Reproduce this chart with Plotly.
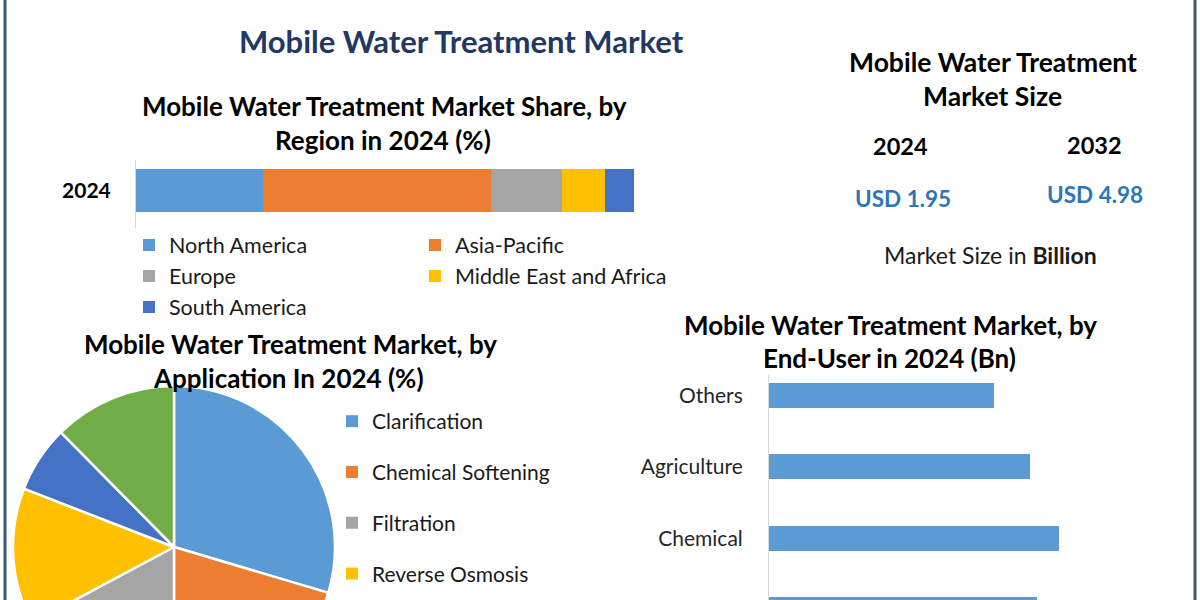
import plotly.graph_objects as go

W, H = 1200, 760


def X(px):
    return px / W


def Y(py):
    return 1 - py / H


FONT = "Lato"

# ---------------- data ----------------
region_year = ["2024"]
regions = ["North America", "Asia-Pacific", "Europe", "Middle East and Africa", "South America"]
region_share = [25.5, 45.8, 14.3, 8.6, 5.8]
region_colors = ["#5b9bd5", "#ed7d31", "#a5a5a5", "#ffc000", "#4472c4"]
region_legend = ["legend", "legend2", "legend", "legend2", "legend"]

applications = ["Clarification", "Chemical Softening", "Filtration", "Reverse Osmosis",
                "Ion Exchange", "Others"]
application_share = [29.6, 20.4, 17.2, 13.7, 6.7, 12.4]
application_colors = ["#5b9bd5", "#ed7d31", "#a5a5a5", "#ffc000", "#4472c4", "#70ad47"]

end_users = ["Others", "Agriculture", "Chemical", "Municipal"]
end_user_value = [0.31, 0.36, 0.40, 0.37]

size_years = ["2024", "2032"]
size_values = [1.95, 4.98]

# ---------------- figure ----------------
fig = go.Figure()

# stacked region share bar
for name, val, col, lg in zip(regions, region_share, region_colors, region_legend):
    fig.add_trace(go.Bar(
        x=[val], y=region_year, orientation="h", name=name,
        marker=dict(color=col, line=dict(width=0)), width=0.63,
        legend=lg, legendgroup=name, xaxis="x", yaxis="y",
        hovertemplate=name + ": %{x}%<extra></extra>",
    ))

# application pie
fig.add_trace(go.Pie(
    labels=applications, values=application_share, sort=False,
    direction="clockwise", rotation=0, textinfo="none",
    marker=dict(colors=application_colors, line=dict(color="white", width=2.5)),
    domain=dict(x=[X(13), X(335)], y=[Y(708), Y(386)]),
    showlegend=False,
))
# pie legend entries
for name, col in zip(applications, application_colors):
    fig.add_trace(go.Scatter(
        x=[None], y=[None], mode="markers", name=name,
        marker=dict(symbol="square", size=12, color=col),
        legend="legend3", legendgroup="app_" + name, xaxis="x", yaxis="y",
    ))

# end-user bar chart
fig.add_trace(go.Bar(
    x=end_user_value, y=end_users, orientation="h", width=0.35,
    marker=dict(color="#5b9bd5", line=dict(width=0)), showlegend=False,
    xaxis="x2", yaxis="y2",
    hovertemplate="%{y}: %{x} Bn<extra></extra>",
))

annotations = []


def txt(text, x, y, size, color="#000000", bold=True):
    annotations.append(dict(
        text=text, x=X(x), y=Y(y), xref="paper", yref="paper",
        xanchor="center", yanchor="middle", showarrow=False,
        font=dict(family=FONT, size=size, color=color,
                  weight="bold" if bold else "normal"),
    ))


txt("Mobile Water Treatment Market", 461, 41, 31, "#1f3864")
txt("Mobile Water Treatment Market Share, by", 384, 106, 26)
txt("Region in 2024 (%)", 383, 140, 26)
txt("Mobile Water Treatment", 993, 62, 26.5)
txt("Market Size", 992, 96, 26.5)
txt(size_years[0], 900, 146, 23.5)
txt(size_years[1], 1094, 145, 23.5)
txt(f"USD {size_values[0]:.2f}", 903, 198, 22.5, "#2e75b6")
txt(f"USD {size_values[1]:.2f}", 1095, 194, 22.5, "#2e75b6")
txt("Market Size in <b>Billion</b>", 990, 255, 23, "#1a1a1a", bold=False)
txt("Mobile Water Treatment Market, by", 290, 344, 26)
txt("Application In 2024 (%)", 288, 378, 26)
txt("Mobile Water Treatment Market, by", 890, 325, 26)
txt("End-User in 2024 (Bn)", 889, 358, 26)

border = "#3b5b6b"
shapes = [
    dict(type="line", xref="paper", yref="paper", x0=X(5), x1=X(5), y0=0, y1=1,
         line=dict(color=border, width=3)),
    dict(type="line", xref="paper", yref="paper", x0=X(1195), x1=X(1195), y0=0, y1=1,
         line=dict(color=border, width=3)),
]


def legend_cfg(x, y, size, gap):
    return dict(
        x=X(x), y=Y(y), xref="paper", yref="paper", xanchor="left", yanchor="top",
        bgcolor="rgba(0,0,0,0)", borderwidth=0, orientation="v",
        font=dict(family=FONT, size=size, color="#1a1a1a"),
        traceorder="grouped", tracegroupgap=gap,
        itemclick=False, itemdoubleclick=False,
    )


fig.update_layout(
    width=W, height=H,
    margin=dict(l=0, r=0, t=0, b=0),
    paper_bgcolor="white", plot_bgcolor="white",
    barmode="stack",
    font=dict(family=FONT, color="#1a1a1a"),
    showlegend=True,
    legend=legend_cfg(129, 224.5, 21.5, 0),
    legend2=legend_cfg(415, 224.5, 21.5, 0),
    legend3=legend_cfg(332, 401, 21, 20.5),
    xaxis=dict(domain=[X(136), X(634)], range=[0, 100], visible=False, fixedrange=True),
    yaxis=dict(domain=[Y(228), Y(160)], type="category", range=[-0.5515, 0.4485],
               showline=True, linecolor="#d9d9d9", linewidth=1, ticks="",
               showgrid=False, zeroline=False, ticklabelstandoff=20,
               tickfont=dict(family=FONT, size=21, color="#000000", weight="bold"),
               fixedrange=True),
    xaxis2=dict(domain=[X(769), X(1190)], range=[0, 421 / 725], visible=False,
                fixedrange=True, anchor="y2"),
    yaxis2=dict(domain=[0, Y(375)], type="category", categoryorder="array",
                categoryarray=end_users[::-1], range=[-2.1, 3.287],
                showline=True, linecolor="#d9d9d9", linewidth=1, ticks="",
                showgrid=False, zeroline=False, ticklabelstandoff=21,
                tickfont=dict(family=FONT, size=21, color="#262626"),
                anchor="x2", fixedrange=True),
    annotations=annotations,
    shapes=shapes,
)

fig.write_html(
    "out.html",
    config={"displayModeBar": False},
    post_script="document.body.style.margin='0';document.body.style.overflow='hidden';",
)
